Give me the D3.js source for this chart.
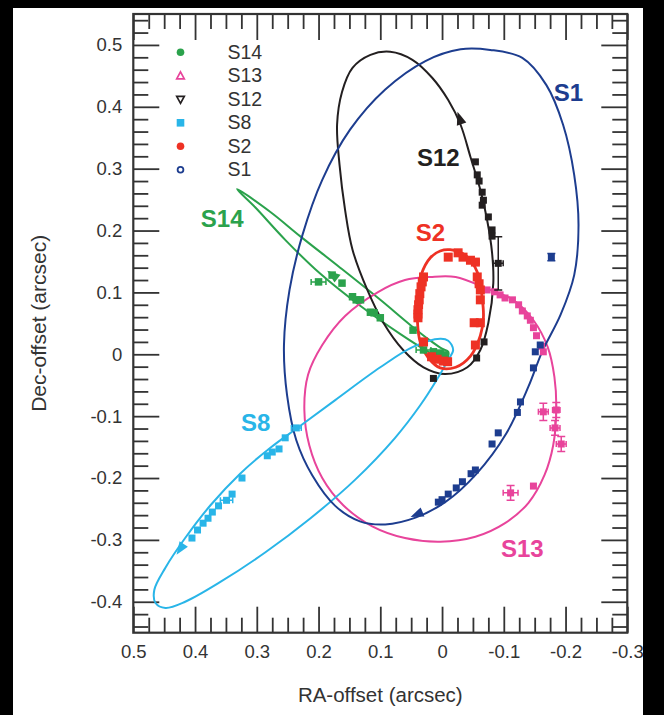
<!DOCTYPE html>
<html>
<head>
<meta charset="utf-8">
<script src="https://cdn.jsdelivr.net/npm/d3@7"></script>
<style>
  html, body { margin: 0; padding: 0; background: #000; }
  svg { display: block; }
  text { font-family: "Liberation Sans", Arial, Helvetica, sans-serif; }
</style>
</head>
<body>
<svg id="chart" width="664" height="715"></svg>
<script>
// ---- Tick labels ----
const xTickLabels = ["0.5", "0.4", "0.3", "0.2", "0.1", "0", "-0.1", "-0.2", "-0.3"];
const yTickLabels = ["0.5", "0.4", "0.3", "0.2", "0.1", "0", "-0.1", "-0.2", "-0.3", "-0.4"];

// ---- Stars (legend order) ----
const stars = ["S14", "S13", "S12", "S8", "S2", "S1"];
const starColors = ["#2ba24c", "#e8449b", "#231f20", "#29b5e8", "#ee3124", "#1d3d8f"];
const legendSymbols = ["circle", "triangleUp", "triangleDown", "square", "circle", "ring"];

// ---- Orbit outlines [RA, Dec] in arcsec ----
const orbitS1 = [[-0.078,0.492],[-0.130,0.479],[-0.169,0.435],[-0.196,0.371],[-0.214,0.290],[-0.221,0.209],
  [-0.214,0.128],[-0.192,0.064],[-0.162,0.004],[-0.140,-0.052],[-0.104,-0.128],[-0.055,-0.194],[-0.005,-0.239],[0.043,-0.264],
  [0.092,-0.275],[0.133,-0.270],[0.173,-0.245],[0.210,-0.196],[0.236,-0.139],[0.251,-0.066],[0.256,0.015],
  [0.247,0.104],[0.226,0.193],[0.194,0.282],[0.149,0.363],[0.092,0.428],[0.027,0.474],[-0.030,0.493]];
const orbitS2 = [[-0.013,0.169],[-0.039,0.159],[-0.057,0.133],[-0.065,0.091],[-0.067,0.059],[-0.062,0.030],
  [-0.046,-0.003],[-0.022,-0.021],[0.003,-0.022],[0.022,-0.006],[0.035,0.018],[0.040,0.055],[0.039,0.096],
  [0.034,0.128],[0.019,0.156],[0.003,0.167]];
const orbitS8 = [[-0.010,0.022],[0.003,0.025],[0.047,0.012],[0.100,-0.021],[0.173,-0.074],[0.230,-0.116],
  [0.278,-0.151],[0.327,-0.193],[0.375,-0.244],[0.416,-0.297],[0.448,-0.345],[0.466,-0.381],[0.464,-0.402],
  [0.448,-0.410],[0.416,-0.400],[0.359,-0.368],[0.286,-0.320],[0.213,-0.265],[0.141,-0.203],[0.076,-0.135],
  [0.035,-0.082],[0.009,-0.042],[-0.010,-0.009],[-0.018,0.007]];
const orbitS12 = [[-0.030,0.371],[-0.010,0.411],[0.016,0.447],[0.048,0.476],[0.084,0.489],[0.116,0.484],
  [0.145,0.463],[0.162,0.424],[0.170,0.371],[0.166,0.306],[0.157,0.233],[0.145,0.169],[0.121,0.104],
  [0.095,0.051],[0.063,0.007],[0.030,-0.021],[-0.005,-0.032],[-0.041,-0.021],[-0.062,0.007],[-0.075,0.051],
  [-0.083,0.115],[-0.081,0.164],[-0.073,0.217],[-0.062,0.266],[-0.046,0.319]];
const orbitS13 = [[0.019,0.125],[-0.022,0.125],[-0.073,0.106],[-0.115,0.088],[-0.148,0.055],[-0.171,0.012],
  [-0.182,-0.037],[-0.185,-0.090],[-0.180,-0.147],[-0.166,-0.195],[-0.140,-0.240],[-0.102,-0.273],
  [-0.054,-0.295],[0.003,-0.303],[0.060,-0.297],[0.113,-0.278],[0.160,-0.244],[0.194,-0.200],[0.215,-0.147],
  [0.223,-0.090],[0.217,-0.033],[0.194,0.015],[0.157,0.062],[0.103,0.101],[0.060,0.120]];
const orbitS14 = [[0.332,0.267],[0.278,0.230],[0.230,0.191],[0.165,0.140],[0.100,0.088],[0.051,0.047],
  [0.019,0.022],[0.000,0.009],[-0.010,0.004],[-0.009,-0.004],[0.006,-0.004],[0.027,0.007],[0.068,0.033],
  [0.132,0.078],[0.197,0.130],[0.254,0.185],[0.303,0.238]];
const orbits = [orbitS14, orbitS13, orbitS12, orbitS8, orbitS2, orbitS1];
const orbitWidths = [2, 2, 2, 2, 2.8, 2];
const markerSizes = [7.5, 7, 7, 7, 9, 7];

// ---- Astrometric positions [RA, Dec, errRA, errDec] ----
const posS1 = [[-0.177,0.157,0,0.006],[-0.159,0.015,0,0],[-0.151,0.004,0,0],[-0.148,-0.022,0,0],
  [-0.127,-0.077,0,0],[-0.122,-0.094,0,0],[-0.091,-0.127,0,0],[-0.081,-0.145,0,0],[-0.054,-0.187,0,0],
  [-0.047,-0.193,0,0],[-0.033,-0.206,0,0],[-0.023,-0.216,0,0],[-0.010,-0.226,0,0],[0.000,-0.235,0,0],
  [0.006,-0.239,0,0]];
const posS2 = [[-0.010,0.157,0,0],[-0.026,0.164,0,0],[-0.034,0.157,0,0],[-0.046,0.152,0,0],[-0.054,0.149,0.006,0],
  [-0.057,0.125,0,0],[-0.060,0.114,0,0],[-0.062,0.104,0,0],[-0.062,0.088,0,0],[-0.062,0.051,0,0],[-0.052,0.051,0,0],
  [-0.054,0.015,0,0],[0.030,0.125,0,0],[0.032,0.117,0,0],[0.034,0.109,0,0],[0.036,0.098,0,0],[0.037,0.088,0,0],
  [0.038,0.080,0,0],[0.039,0.072,0,0],[0.039,0.065,0,0],[0.039,0.059,0,0],
  [0.030,0.020,0,0],[0.017,-0.004,0,0],[0.008,-0.008,0,0],[-0.002,-0.011,0,0],[-0.009,-0.012,0,0]];
const posS8 = [[0.236,-0.119,0.008,0],[0.254,-0.135,0,0],[0.264,-0.153,0,0],[0.275,-0.158,0,0],[0.283,-0.164,0,0],
  [0.324,-0.200,0,0],[0.340,-0.226,0,0],[0.349,-0.236,0.01,0],[0.362,-0.245,0,0],[0.372,-0.255,0,0],
  [0.379,-0.265,0,0],[0.387,-0.273,0,0],[0.396,-0.284,0,0],[0.405,-0.297,0,0]];
const posS12 = [[-0.054,0.311,0,0],[-0.057,0.290,0,0],[-0.060,0.280,0,0],[-0.065,0.262,0,0],[-0.067,0.249,0,0],
  [-0.065,0.241,0,0],[-0.075,0.222,0,0],[-0.081,0.201,0,0],[-0.081,0.191,0,0],[-0.091,0.147,0.008,0.043],
  [-0.068,0.020,0,0],[-0.056,-0.006,0,0],[0.014,-0.039,0,0]];
const posS13 = [[-0.073,0.104,0,0],[-0.085,0.101,0,0],[-0.094,0.096,0,0],[-0.102,0.091,0,0],[-0.114,0.088,0,0],
  [-0.124,0.080,0,0],[-0.130,0.070,0,0],[-0.138,0.062,0,0],[-0.143,0.055,0,0],[-0.148,0.043,0,0],
  [-0.153,0.030,0,0],[-0.161,0.013,0,0],[-0.164,0.004,0,0],[-0.164,-0.093,0.008,0.014],[-0.185,-0.090,0.006,0.012],
  [-0.183,-0.119,0.008,0.012],[-0.193,-0.145,0.008,0.012],[-0.111,-0.224,0.012,0.012],[-0.148,-0.213,0,0]];
const posS14 = [[0.200,0.117,0.012,0],[0.178,0.128,0,0],[0.162,0.115,0,0],[0.145,0.093,0,0],[0.139,0.088,0,0],
  [0.132,0.088,0,0],[0.116,0.068,0,0],[0.110,0.067,0,0],[0.100,0.059,0,0],[0.047,0.039,0,0],[0.030,0.007,0.012,0],
  [0.014,0.004,0,0],[0.003,0.002,0,0],[-0.005,-0.001,0,0]];
const positions = [posS14, posS13, posS12, posS8, posS2, posS1];

// ---- Direction arrows: [tailRA, tailDec, tipRA, tipDec] ----
const arrowS14 = [0.165, 0.119, 0.186, 0.135];
const arrowS12 = [-0.036, 0.359, -0.025, 0.392];
const arrowS1 = [0.027, -0.253, 0.051, -0.263];
const arrowS8 = [0.414, -0.300, 0.430, -0.324];
const arrows = [arrowS14, null, arrowS12, arrowS8, null, arrowS1];

// ---- Star name labels [RA, Dec] ----
const labelPos = [[0.356, 0.206], [-0.130, -0.328], [0.006, 0.304], [0.302, -0.124], [0.019, 0.183], [-0.2045, 0.409]];

// ---- Layout ----
const svg = d3.select("#chart");
const W = 664, H = 715;
const plot = { left: 133.3, right: 627.3, top: 14, bottom: 632.7 };

svg.append("rect").attr("x", 13).attr("y", 8).attr("width", 630).attr("height", H - 8).attr("fill", "#fff");

const x = d3.scaleLinear().domain([0.5, -0.3]).range([plot.left, plot.right]);
const y = d3.scaleLinear().domain([-0.45, 0.55]).range([plot.bottom, plot.top]);

const axisColor = "#333";
const majorX = xTickLabels.map(Number);
const majorY = yTickLabels.map(Number);
const minorX = d3.range(-12, 21).map(i => i * 0.025).filter(v => v >= -0.3 && v <= 0.5 && Math.abs(v * 10 - Math.round(v * 10)) > 1e-6);
const minorY = d3.range(-22, 28).map(i => i * 0.02).filter(v => v >= -0.45 && v <= 0.55 && Math.abs(v * 10 - Math.round(v * 10)) > 1e-6);

const fmt = labels => (d => labels[labels.map(Number).indexOf(d)] ?? "");

function styleAxis(g) {
  g.select(".domain").remove();
  g.selectAll(".tick line").attr("stroke", axisColor).attr("stroke-width", 1.8);
  g.selectAll(".tick text").attr("fill", "#333").style("font-size", "18.5px")
    .style("font-family", "'Liberation Sans', Arial, sans-serif");
}

// bottom
svg.append("g").attr("transform", `translate(0,${plot.bottom})`)
  .call(d3.axisBottom(x).tickValues(majorX).tickSizeInner(-26).tickSizeOuter(0).tickPadding(12.5).tickFormat(fmt(xTickLabels)))
  .call(styleAxis);
svg.append("g").attr("transform", `translate(0,${plot.bottom})`)
  .call(d3.axisBottom(x).tickValues(minorX).tickSizeInner(-15).tickSizeOuter(0).tickFormat(""))
  .call(styleAxis);
// top
svg.append("g").attr("transform", `translate(0,${plot.top})`)
  .call(d3.axisTop(x).tickValues(majorX).tickSizeInner(-26).tickSizeOuter(0).tickFormat(""))
  .call(styleAxis);
svg.append("g").attr("transform", `translate(0,${plot.top})`)
  .call(d3.axisTop(x).tickValues(minorX).tickSizeInner(-15).tickSizeOuter(0).tickFormat(""))
  .call(styleAxis);
// left
svg.append("g").attr("transform", `translate(${plot.left},0)`)
  .call(d3.axisLeft(y).tickValues(majorY).tickSizeInner(-26).tickSizeOuter(0).tickPadding(11).tickFormat(fmt(yTickLabels)))
  .call(styleAxis);
svg.append("g").attr("transform", `translate(${plot.left},0)`)
  .call(d3.axisLeft(y).tickValues(minorY).tickSizeInner(-15).tickSizeOuter(0).tickFormat(""))
  .call(styleAxis);
// right
svg.append("g").attr("transform", `translate(${plot.right},0)`)
  .call(d3.axisRight(y).tickValues(majorY).tickSizeInner(-26).tickSizeOuter(0).tickFormat(""))
  .call(styleAxis);
svg.append("g").attr("transform", `translate(${plot.right},0)`)
  .call(d3.axisRight(y).tickValues(minorY).tickSizeInner(-15).tickSizeOuter(0).tickFormat(""))
  .call(styleAxis);

// frame
svg.append("rect").attr("x", plot.left).attr("y", plot.top)
  .attr("width", plot.right - plot.left).attr("height", plot.bottom - plot.top)
  .attr("fill", "none").attr("stroke", axisColor).attr("stroke-width", 2.2);

// axis titles
svg.append("text").attr("x", (plot.left + plot.right) / 2).attr("y", 702)
  .attr("text-anchor", "middle").attr("fill", "#333").style("font-size", "20.5px").text("RA-offset (arcsec)");
svg.append("text").attr("transform", `translate(46,${(plot.top + plot.bottom) / 2}) rotate(-90)`)
  .attr("text-anchor", "middle").attr("fill", "#333").style("font-size", "21px").text("Dec-offset (arcsec)");

// orbits
const orbitLine = d3.line().x(d => x(d[0])).y(d => y(d[1])).curve(d3.curveCatmullRomClosed.alpha(0.5));
const gOrbits = svg.append("g");
stars.forEach((s, i) => {
  gOrbits.append("path").attr("d", orbitLine(orbits[i]))
    .attr("fill", "none").attr("stroke", starColors[i]).attr("stroke-width", orbitWidths[i]);
});

// positions with error bars
const gPos = svg.append("g");
stars.forEach((s, i) => {
  const c = starColors[i], m = markerSizes[i];
  positions[i].forEach(p => {
    const cx = x(p[0]), cy = y(p[1]);
    if (p[2] > 0) {
      const x0 = x(p[0] + p[2]), x1 = x(p[0] - p[2]);
      gPos.append("path").attr("d", `M${x0},${cy}H${x1}M${x0},${cy - 3}V${cy + 3}M${x1},${cy - 3}V${cy + 3}`)
        .attr("stroke", c).attr("stroke-width", 1.5).attr("fill", "none");
    }
    if (p[3] > 0) {
      const y0 = y(p[1] + p[3]), y1 = y(p[1] - p[3]);
      gPos.append("path").attr("d", `M${cx},${y0}V${y1}M${cx - 4},${y0}H${cx + 4}M${cx - 4},${y1}H${cx + 4}`)
        .attr("stroke", c).attr("stroke-width", 1.5).attr("fill", "none");
    }
    gPos.append("rect").attr("x", cx - m / 2).attr("y", cy - m / 2).attr("width", m).attr("height", m).attr("fill", c);
  });
});

// direction arrows
stars.forEach((s, i) => {
  const a = arrows[i];
  if (!a) return;
  const tx = x(a[2]), ty = y(a[3]), bx = x(a[0]), by = y(a[1]);
  const ang = Math.atan2(ty - by, tx - bx);
  const len = 13, half = 5;
  const ux = Math.cos(ang), uy = Math.sin(ang);
  const p1 = [tx - ux * len - uy * half, ty - uy * len + ux * half];
  const p2 = [tx - ux * len + uy * half, ty - uy * len - ux * half];
  svg.append("path").attr("d", `M${tx},${ty}L${p1[0]},${p1[1]}L${p2[0]},${p2[1]}Z`).attr("fill", starColors[i]);
});

// star labels
stars.forEach((s, i) => {
  svg.append("text").attr("x", x(labelPos[i][0])).attr("y", y(labelPos[i][1]))
    .attr("text-anchor", "middle").attr("fill", starColors[i])
    .style("font-size", "24px").style("font-weight", "bold").text(s);
});

// legend
const legend = svg.append("g");
const legendY0 = 52.3, legendDy = 23.5;
stars.forEach((s, i) => {
  const ly = legendY0 + i * legendDy, lx = 180.5, c = starColors[i];
  const sym = legendSymbols[i];
  if (sym === "circle") legend.append("circle").attr("cx", lx).attr("cy", ly).attr("r", 3.8).attr("fill", c);
  else if (sym === "ring") legend.append("circle").attr("cx", lx).attr("cy", ly).attr("r", 2.9).attr("fill", "none").attr("stroke", c).attr("stroke-width", 1.8);
  else if (sym === "square") legend.append("rect").attr("x", lx - 3.8).attr("y", ly - 3.8).attr("width", 7.6).attr("height", 7.6).attr("fill", c);
  else if (sym === "triangleUp") legend.append("path").attr("d", `M${lx},${ly - 4}L${lx + 3.8},${ly + 3}L${lx - 3.8},${ly + 3}Z`).attr("fill", "none").attr("stroke", c).attr("stroke-width", 1.7);
  else if (sym === "triangleDown") legend.append("path").attr("d", `M${lx},${ly + 4}L${lx + 3.8},${ly - 3}L${lx - 3.8},${ly - 3}Z`).attr("fill", "none").attr("stroke", c).attr("stroke-width", 1.7);
  legend.append("text").attr("x", 227.5).attr("y", ly + 6.5).attr("fill", "#333").style("font-size", "19.5px").text(s);
});
</script>
</body>
</html>
